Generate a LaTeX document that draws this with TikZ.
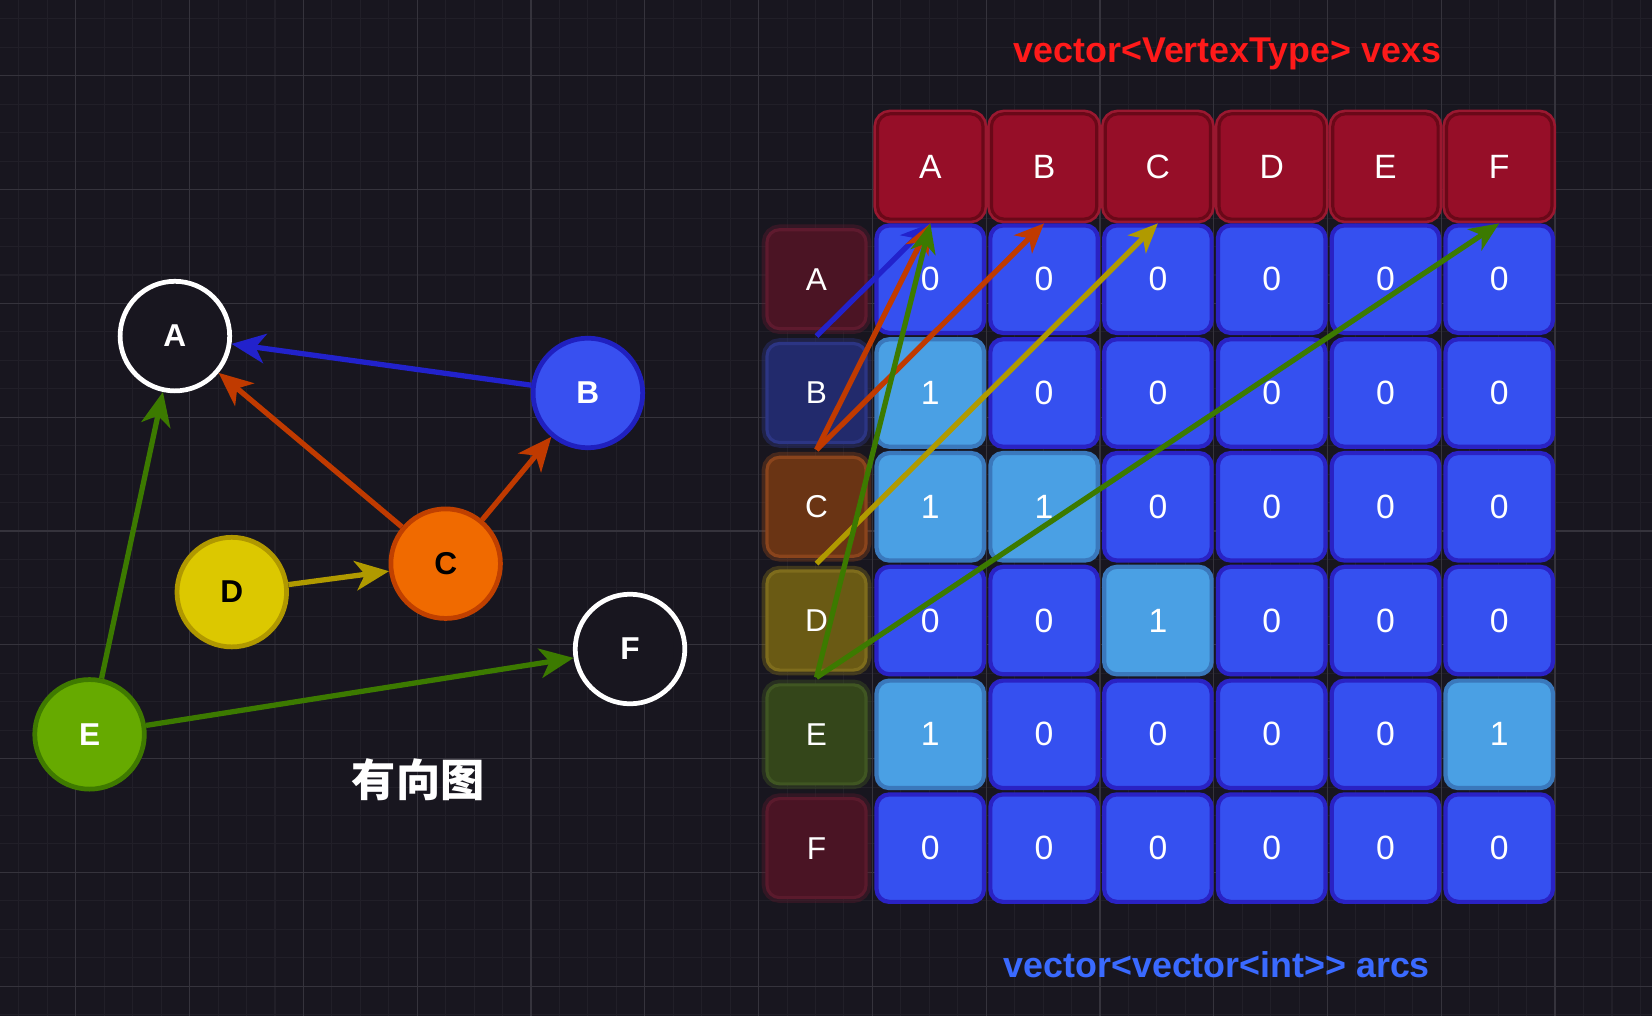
\documentclass[tikz,border=0pt]{standalone}
\usepackage{fontspec}
\setmainfont{Liberation Sans}
\newfontfamily\cjk{Noto Sans CJK SC}
\usetikzlibrary{arrows.meta}
\definecolor{bg}{HTML}{18161F}
\definecolor{gminor}{HTML}{211F28}
\definecolor{gmajor}{HTML}{35333C}
\definecolor{hdrfill}{HTML}{960E28}
\definecolor{hdrline}{HTML}{6A0818}
\definecolor{hdrglow}{HTML}{9A1830}
\definecolor{cellfill}{HTML}{3550F0}
\definecolor{cellline}{HTML}{2A22C4}
\definecolor{onefill}{HTML}{4AA0E4}
\definecolor{oneline}{HTML}{3A78BC}
\definecolor{eblue}{HTML}{2222CC}
\definecolor{ered}{HTML}{C03A00}
\definecolor{eyel}{HTML}{B09A00}
\definecolor{egreen}{HTML}{3C7A00}
\definecolor{vB}{HTML}{3850F0}
\definecolor{vBl}{HTML}{2020C0}
\definecolor{vC}{HTML}{F06A00}
\definecolor{vCl}{HTML}{C04000}
\definecolor{vD}{HTML}{DCC800}
\definecolor{vDl}{HTML}{B09800}
\definecolor{vE}{HTML}{66AA00}
\definecolor{vEl}{HTML}{3F7A00}
\definecolor{rA}{HTML}{4B1424}
\definecolor{rAl}{HTML}{5E1A2E}
\definecolor{rB}{HTML}{222A6C}
\definecolor{rBl}{HTML}{2C3584}
\definecolor{rC}{HTML}{6A3414}
\definecolor{rCl}{HTML}{8A441C}
\definecolor{rD}{HTML}{6A5A14}
\definecolor{rDl}{HTML}{7E6C1C}
\definecolor{rE}{HTML}{34461A}
\definecolor{rEl}{HTML}{405622}
\definecolor{rF}{HTML}{4A1424}
\definecolor{rFl}{HTML}{5A1A2C}
\definecolor{ttlred}{HTML}{FF1A1A}
\definecolor{ttlblue}{HTML}{3A6AFF}
\begin{document}
\begin{tikzpicture}[x=1pt,y=-1pt,
  minorline/.style={gminor, line width=1pt},
  majorline/.style={gmajor, line width=1.2pt},
  hdr/.style={rectangle, rounded corners=12pt, minimum size=100pt, fill=hdrfill, draw=hdrline, line width=3pt,
    preaction={draw=hdrglow, line width=8pt}, text=white, font=\fontsize{32}{36}\selectfont},
  cellz/.style={rectangle, rounded corners=12pt, minimum size=102pt, fill=cellfill, draw=cellline, line width=4pt,
    text=white, font=\fontsize{32}{36}\selectfont},
  cello/.style={cellz, fill=onefill, draw=oneline},
  rowlab/.style={rectangle, rounded corners=12pt, minimum size=94pt, line width=3pt, text=white,
    font=\fontsize{30}{36}\selectfont},
  vert/.style={circle, minimum size=104pt, inner sep=0pt, line width=4.5pt, font=\bfseries\fontsize{30}{36}\selectfont},
  tip/.style={-{Stealth[length=32pt,width=28pt,inset=9pt]}, line width=5pt},
  mtip/.style={-{Stealth[length=28pt,width=24pt,inset=8pt]}, line width=5pt}
]
\fill[bg] (0,0) rectangle (1568,964);
\useasboundingbox (0,0) rectangle (1568,964);
% grid
\foreach \x in {18,45,...,1568} \draw[minorline] (\x,0) -- (\x,964);
\foreach \y in {18,45,...,964} \draw[minorline] (0,\y) -- (1568,\y);
\foreach \x in {72,180,...,1568} \draw[majorline] (\x,0) -- (\x,964);
\foreach \y in {72,180,...,964} \draw[majorline] (0,\y) -- (1568,\y);

% titles
\node[text=ttlred, font=\bfseries\fontsize{34}{40}\selectfont] (t1) at (1165,51) {vector<VertexType> vexs};
\node[text=ttlblue, font=\bfseries\fontsize{34}{40}\selectfont] (t2) at (1155,916) {vector<vector<int>{}> arcs};
\node[text=white, font=\cjk\bfseries\fontsize{42}{48}\selectfont] (t3) at (397,740) {有向图};

% header
\foreach \l [count=\i] in {A,B,C,D,E,F}
  \node[hdr] (h\i) at (775+108*\i,158) {\l};

% row labels
\foreach \l/\c [count=\r] in {A/rA,B/rB,C/rC,D/rD,E/rE,F/rF}
  \node[rowlab, fill=\c, draw=\c l, preaction={draw=\c l, line width=10pt, opacity=0.4}] (r\r) at (775,157+108*\r) {\l};

% cells
\foreach \vals [count=\r] in {{0,0,0,0,0,0},{1,0,0,0,0,0},{1,1,0,0,0,0},{0,0,1,0,0,0},{1,0,0,0,0,1},{0,0,0,0,0,0}}
  \foreach \v [count=\c] in \vals {
    \ifnum\v=1
      \node[cello] (m\r-\c) at (775+108*\c,157+108*\r) {\v};
    \else
      \node[cellz] (m\r-\c) at (775+108*\c,157+108*\r) {\v};
    \fi
  };

% matrix arrows
\coordinate (sB) at (775,319);
\coordinate (sC) at (775,427);
\coordinate (sD) at (775,535);
\coordinate (sE) at (775,643);
\coordinate (eA) at (883,212);
\coordinate (eB) at (991,212);
\coordinate (eC) at (1099,212);
\coordinate (eF) at (1423,212);
\draw[mtip, eblue] (sB) -- (eA);
\draw[mtip, ered] (sC) -- (eA);
\draw[mtip, ered] (sC) -- (eB);
\draw[mtip, eyel] (sD) -- (eC);
\draw[mtip, egreen] (sE) -- (eA);
\draw[mtip, egreen] (sE) -- (eF);

% graph
\node[vert, fill=bg, draw=white, text=white] (A) at (166,319) {A};
\node[vert, fill=vB, draw=vBl, text=white] (B) at (558,373) {B};
\node[vert, fill=vC, draw=vCl, text=black] (C) at (423,535) {C};
\node[vert, fill=vD, draw=vDl, text=black] (D) at (220,562) {D};
\node[vert, fill=vE, draw=vEl, text=white] (E) at (85,697) {E};
\node[vert, fill=bg, draw=white, text=white] (F) at (598,616) {F};

\draw[tip, eblue] (B) -- (A);
\draw[tip, ered] (C) -- (A);
\draw[tip, ered] (C) -- (B);
\draw[tip, eyel] (D) -- (C);
\draw[tip, egreen] (E) -- (A);
\draw[tip, egreen] (E) -- (F);
\end{tikzpicture}
\end{document}
